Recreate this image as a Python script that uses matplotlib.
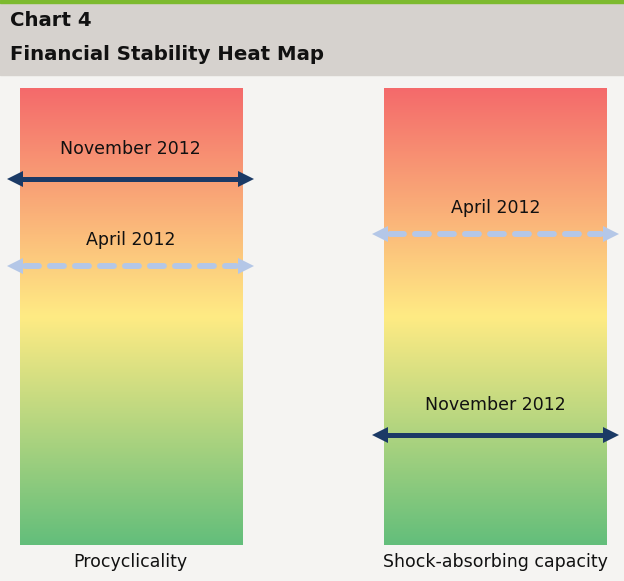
import numpy as np
import matplotlib.pyplot as plt
from matplotlib.colors import LinearSegmentedColormap
from matplotlib.patches import Rectangle

# Heat map read-out (0 = bottom/green, 100 = top/red)
categories = ['Procyclicality', 'Shock-absorbing capacity']
april_2012 = [61, 68]
november_2012 = [80, 24]

plt.rcParams['font.family'] = 'DejaVu Sans'
plt.rcParams['lines.scale_dashes'] = False

W, H = 624, 581
fig = plt.figure(figsize=(W / 100, H / 100), dpi=100)
fig.patch.set_facecolor('#f5f4f2')

# header band
fig.add_artist(Rectangle((0, 1 - 75 / H), 1, 75 / H, transform=fig.transFigure,
                         color='#d6d2ce', zorder=0))
fig.add_artist(Rectangle((0, 1 - 3 / H), 1, 3 / H, transform=fig.transFigure,
                         color='#7dba2f', zorder=1))
fig.text(10 / W, 1 - 20 / H, 'Chart 4', fontsize=14.2, fontweight='bold',
         va='center', ha='left', color='#111111')
fig.text(10 / W, 1 - 55 / H, 'Financial Stability Heat Map', fontsize=14.2,
         fontweight='bold', va='center', ha='left', color='#111111')

cmap = LinearSegmentedColormap.from_list(
    'excel', [(0, '#63BE7B'), (0.5, '#FFEB84'), (1, '#F46A6B')])
grad = np.linspace(0, 1, 256).reshape(-1, 1)

ax = fig.add_axes([19.5 / W, 36 / H, 587.5 / W, 457 / H])
half = 0.305
for i, cat in enumerate(categories):
    ax.imshow(grad, extent=(i - half, i + half, 0, 100), cmap=cmap,
              origin='lower', aspect='auto', zorder=1)
    ax.annotate(cat, (i, 0), xytext=(0, -12), textcoords='offset points',
                ha='center', va='center', fontsize=12.5, color='#111111',
                annotation_clip=False)


def level_arrow(x, y, color, dashed, label, offset):
    x0, x1 = x - half - 0.004, x + half + 0.004
    if dashed:
        ax.plot([x0 + 0.02, x1 - 0.02], [y, y], color=color, lw=4.3,
                dashes=(10, 8), dash_capstyle='round', clip_on=False, zorder=3)
    else:
        ax.plot([x0, x1], [y, y], color=color, lw=3.6, clip_on=False, zorder=3)
    ax.plot([x - half - 0.012], [y], marker='<', ms=11.5, color=color, mew=0,
            clip_on=False, zorder=4)
    ax.plot([x + half + 0.012], [y], marker='>', ms=11.5, color=color, mew=0,
            clip_on=False, zorder=4)
    ax.annotate(label, (x, y), xytext=(0, offset), textcoords='offset points',
                ha='center', va='center', fontsize=12.5, color='#111111')


for i in range(len(categories)):
    level_arrow(i, april_2012[i], '#b4c7e7', True, 'April 2012', 19)
    level_arrow(i, november_2012[i], '#1b3a66', False, 'November 2012', 22)

ax.set_xlim(-half, 1 + half)
ax.set_ylim(0, 100)
ax.axis('off')

fig.savefig('out.png', dpi=100, facecolor=fig.get_facecolor())
